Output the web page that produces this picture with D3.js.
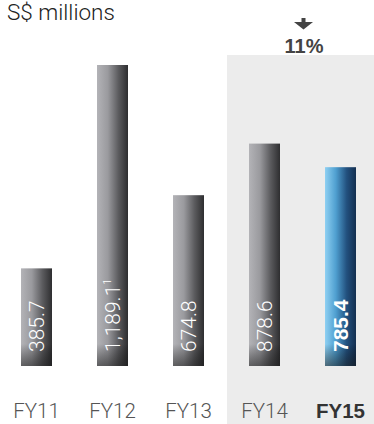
<!DOCTYPE html>
<html><head><meta charset="utf-8">
<script src="https://cdn.jsdelivr.net/npm/d3@7/dist/d3.min.js"></script>
<style>
html,body{margin:0;padding:0;background:#fff;}
svg{display:block;font-family:"Liberation Sans",Arial,Helvetica,sans-serif;}
</style></head>
<body>
<script>
const categories = ["FY11","FY12","FY13","FY14","FY15"];
const values = [385.7, 1189.1, 674.8, 878.6, 785.4];
const valueLabels = ["385.7", "1,189.1", "674.8", "878.6", "785.4"];
const footnotes = ["", "1", "", "", ""];
const changeLabel = "11%";
const unitLabel = "S$ millions";

const W = 374, H = 424;
const LIGHT = "Roboto, Liberation Sans, sans-serif";
const svg = d3.select("body").append("svg").attr("width", W).attr("height", H);
const defs = svg.append("defs");

const gGray = defs.append("linearGradient").attr("id","gGray").attr("x1","0").attr("x2","1").attr("y1","0").attr("y2","0");
gGray.append("stop").attr("offset","0").attr("stop-color","#b3b3b7");
gGray.append("stop").attr("offset","0.35").attr("stop-color","#9a9a9e");
gGray.append("stop").attr("offset","0.7").attr("stop-color","#5a5a5d");
gGray.append("stop").attr("offset","1").attr("stop-color","#2e2e30");

const gBlue = defs.append("linearGradient").attr("id","gBlue").attr("x1","0").attr("x2","1").attr("y1","0").attr("y2","0");
gBlue.append("stop").attr("offset","0").attr("stop-color","#8fd0f2");
gBlue.append("stop").attr("offset","0.35").attr("stop-color","#4f9fd0");
gBlue.append("stop").attr("offset","0.7").attr("stop-color","#22507e");
gBlue.append("stop").attr("offset","1").attr("stop-color","#142f50");

const gShade = defs.append("linearGradient").attr("id","gShade").attr("x1","0").attr("x2","0").attr("y1","0").attr("y2","1");
gShade.append("stop").attr("offset","0").attr("stop-color","#000").attr("stop-opacity","0");
gShade.append("stop").attr("offset","1").attr("stop-color","#1a1a1a").attr("stop-opacity","0.55");

// step 76, bandwidth 31, first band at x=21
const xs = d3.scaleBand().domain(categories).range([21, 21 + 76*4 + 31]).paddingInner((76-31)/76).paddingOuter(0);
const y = d3.scaleLinear().domain([0, 1189.1]).range([366, 65]);

// highlight panel
svg.append("rect").attr("x", 227).attr("y", 55).attr("width", W - 227).attr("height", H - 55).attr("fill", "#ececec");

// title
svg.append("text").attr("x", 7).attr("y", 19.5).attr("font-size", 22.5)
  .attr("font-family", LIGHT).attr("font-weight", "300")
  .attr("fill", "#222").text(unitLabel);

const bars = svg.selectAll("g.bar").data(categories).join("g").attr("class","bar");
bars.append("rect")
  .attr("x", d => xs(d)).attr("width", xs.bandwidth())
  .attr("y", (d,i) => y(values[i])).attr("height", (d,i) => y(0) - y(values[i]))
  .attr("fill", (d,i) => i === 4 ? "url(#gBlue)" : "url(#gGray)");
bars.append("rect")
  .attr("x", d => xs(d)).attr("width", xs.bandwidth())
  .attr("y", y(0) - 22).attr("height", 22)
  .attr("fill", "url(#gShade)");

// value labels rotated
bars.append("text")
  .attr("transform", d => `translate(${xs(d) + xs.bandwidth()/2 + 7.5},${y(0) - 14}) rotate(-90)`)
  .attr("font-size", 21)
  .attr("font-family", (d,i) => i === 4 ? "Liberation Sans, Arial, sans-serif" : LIGHT)
  .attr("font-weight", (d,i) => i === 4 ? "bold" : "300")
  .attr("fill", "#fff")
  .each(function(d,i){
    const t = d3.select(this);
    t.append("tspan").text(valueLabels[i]);
    if (footnotes[i]) t.append("tspan").attr("font-size", 11).attr("dy", -9).text(footnotes[i]);
  });

// category labels
svg.selectAll("text.cat").data(categories).join("text").attr("class","cat")
  .attr("x", d => xs(d) + xs.bandwidth()/2).attr("y", 418)
  .attr("text-anchor","middle").attr("font-size", 20.5)
  .attr("font-family", (d,i) => i === 4 ? "Liberation Sans, Arial, sans-serif" : LIGHT)
  .attr("font-weight", (d,i) => i === 4 ? "bold" : "300")
  .attr("fill", (d,i) => i === 4 ? "#333" : "#555")
  .text(d => d);

// arrow + change
const ax = 303.5;
svg.append("path")
  .attr("d", `M${ax-2},18 L${ax+2},18 L${ax+2},22 L${ax+9.5},22 L${ax},29.5 L${ax-9.5},22 L${ax-2},22 Z`)
  .attr("fill", "#444");
svg.append("text").attr("x", ax + 0.5).attr("y", 53).attr("text-anchor","middle")
  .attr("font-size", 20).attr("font-weight","bold").attr("fill","#444").text(changeLabel);
</script>
</body></html>
